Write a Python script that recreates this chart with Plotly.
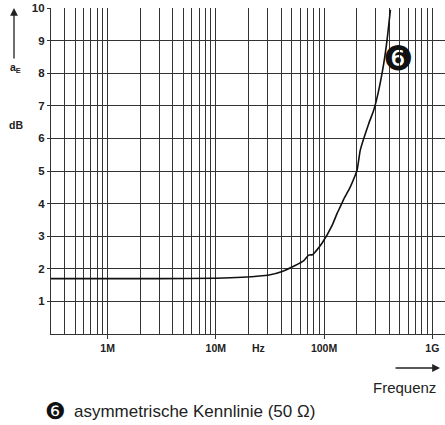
import numpy as np
import plotly.graph_objects as go

# data (frequency in Hz, attenuation a_E in dB)
freq = [3e5, 1e6, 3e6, 1e7, 1.75e7, 3.1e7, 4.1e7, 5.4e7, 6.5e7, 7.2e7, 7.8e7, 8.3e7, 9.6e7,
        1.19e8, 1.32e8, 1.41e8, 1.52e8, 1.74e8, 1.92e8, 2.02e8, 2.09e8, 2.16e8,
        2.59e8, 2.88e8, 3.2e8, 3.56e8, 3.82e8, 4.1e8]
a_e = [1.70, 1.70, 1.70, 1.71, 1.74, 1.81, 1.92, 2.10, 2.25, 2.42, 2.43, 2.52, 2.79,
       3.34, 3.70, 3.90, 4.14, 4.50, 4.83, 5.03, 5.34, 5.64,
       6.46, 6.87, 7.48, 8.30, 9.02, 9.94]

major_ticks = [1e6, 1e7, 1e8, 1e9]
major_labels = ["1M", "10M", "100M", "1G"]
minor_ticks = [m * 10 ** e for e in range(5, 9) for m in range(2, 10) if 3.5e5 < m * 10 ** e < 1e9]
y_ticks = list(range(1, 11))
y_labels = [str(v) for v in y_ticks]

W, H = 445, 425
L, R, T, B = 51, 0, 8, 91
pw, ph = W - L - R, H - T - B

def px(x):
    return (x - L) / pw

def py(y):
    return (H - B - y) / ph

grid = "#333333"
fig = go.Figure()
fig.add_trace(go.Scatter(x=freq, y=a_e, mode="lines",
                         line=dict(color="#111", width=1.6, shape="spline", smoothing=0.5),
                         showlegend=False, hoverinfo="skip"))

tickfont = dict(family="Liberation Sans", size=10.5, color="#222", weight="bold")
fig.update_layout(
    width=W, height=H, margin=dict(l=L, r=R, t=T, b=B),
    paper_bgcolor="white", plot_bgcolor="white",
    xaxis=dict(type="log", range=[np.log10(3e5), np.log10(1.31e9)],
               tickmode="array", tickvals=major_ticks, ticktext=major_labels,
               ticks="outside", ticklen=4, tickcolor=grid, tickwidth=1,
               showgrid=True, gridcolor=grid, gridwidth=1.2,
               minor=dict(tickmode="array", tickvals=minor_ticks, showgrid=True,
                          gridcolor=grid, gridwidth=1.2, ticks=""),
               showline=True, linecolor=grid, linewidth=1.3,
               tickfont=tickfont, zeroline=False, fixedrange=True, automargin=False),
    yaxis=dict(range=[0, 10], tickmode="array", tickvals=y_ticks, ticktext=y_labels,
               ticks="outside", ticklen=3, tickcolor=grid,
               showgrid=True, gridcolor=grid, gridwidth=1.2,
               showline=True, linecolor=grid, linewidth=1.3,
               tickfont=dict(family="Liberation Sans", size=11.5, color="#222", weight="bold"),
               zeroline=False, fixedrange=True, automargin=False),
    font=dict(family="Liberation Sans", color="#222"),
)

def label(x, y, text, **kw):
    d = dict(xref="paper", yref="paper", x=px(x), y=py(y), text=text, showarrow=False,
             xanchor="center", yanchor="middle")
    d.update(kw)
    return d

ann = []
# a_E label with up arrow
ann.append(dict(xref="paper", yref="paper", x=px(14), y=py(8), text="", showarrow=True,
                ax=0, ay=52, arrowhead=2, arrowsize=1.2, arrowwidth=1.3, arrowcolor="#222"))
ann.append(label(15, 68, "a<sub>E</sub>", font=dict(size=10.5, color="#222", weight="bold")))
ann.append(label(16, 125, "dB", font=dict(size=10.5, color="#222", weight="bold")))
ann.append(label(258, 348, "Hz", font=dict(size=10.5, color="#222", weight="bold")))
ann.append(dict(xref="paper", yref="paper", x=px(440), y=py(368), text="", showarrow=True,
                ax=-46, ay=0, arrowhead=2, arrowsize=1.2, arrowwidth=1.3, arrowcolor="#222"))
ann.append(label(404, 387, "Frequenz", font=dict(size=15, color="#222")))
ann.append(label(398, 58, "❻", font=dict(family="DejaVu Sans", size=34, color="#111")))
ann.append(label(55, 411, "❻", font=dict(family="DejaVu Sans", size=23, color="#111")))
ann.append(label(72, 411, "asymmetrische Kennlinie (50 Ω)", xanchor="left",
                 font=dict(family="Liberation Sans", size=17, color="#222")))
fig.update_layout(annotations=ann)

fig.write_html("out.html", config={"displayModeBar": False},
               post_script="document.body.style.margin='0';document.body.style.overflow='hidden';")
